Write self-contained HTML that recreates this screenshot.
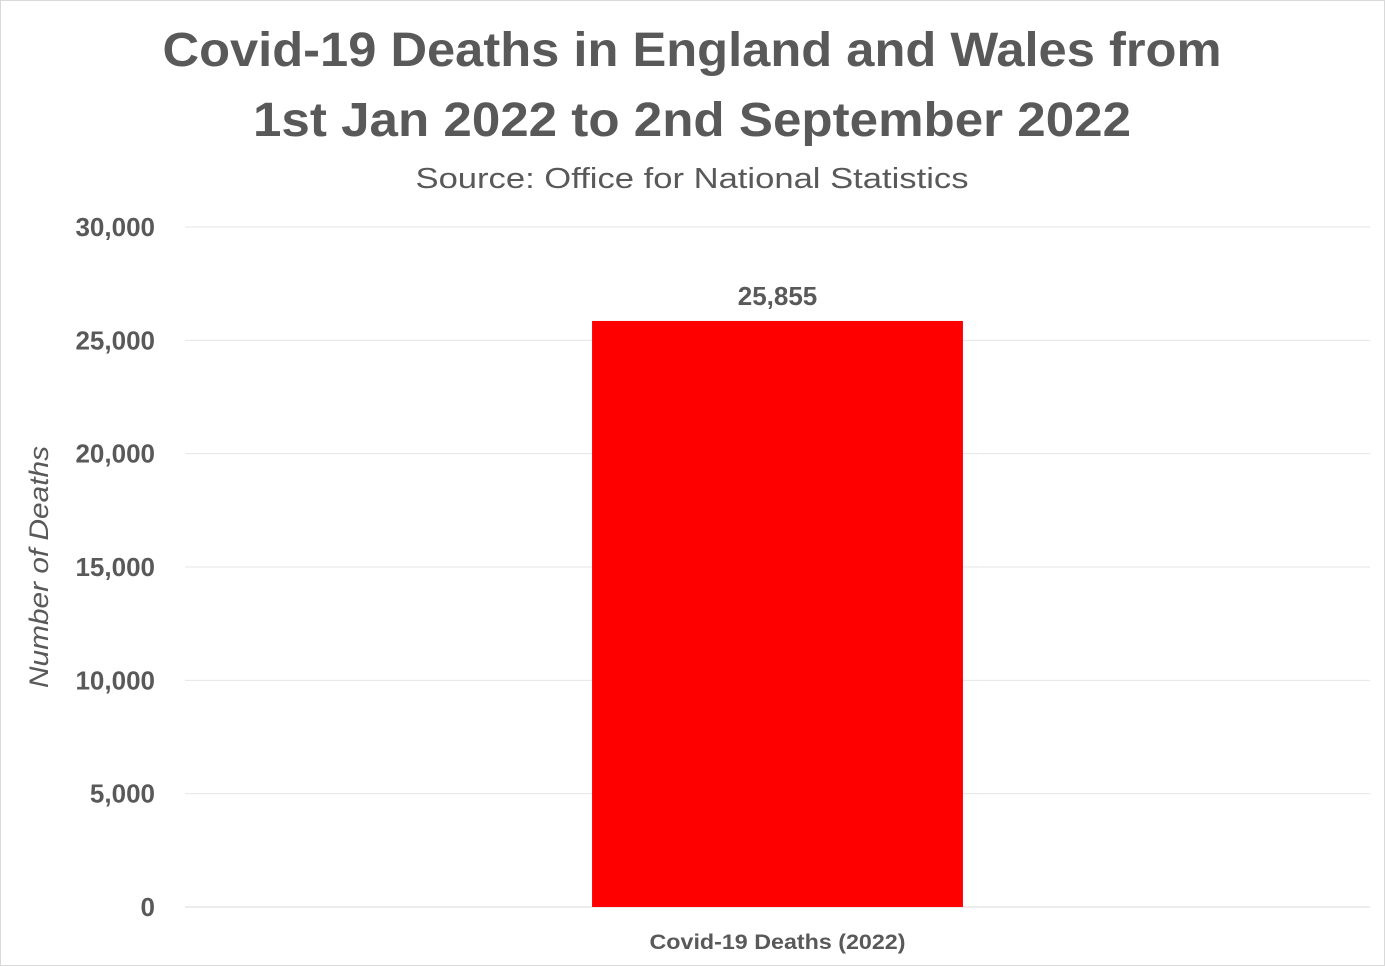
<!DOCTYPE html>
<html><head><meta charset="utf-8"><style>
html,body{margin:0;padding:0;background:#fff}
svg{display:block}
text{font-family:"Liberation Sans",sans-serif;fill:#595959}
</style></head><body>
<svg id="chart" width="1385" height="966" viewBox="0 0 1385 966">
<rect x="0.5" y="0.5" width="1384" height="965" fill="#fff" stroke="#d9d9d9"/>
<text x="692" y="66" text-anchor="middle" font-size="48" font-weight="bold" textLength="1059" lengthAdjust="spacingAndGlyphs">Covid-19 Deaths in England and Wales from</text>
<text x="692" y="136" text-anchor="middle" font-size="48" font-weight="bold" textLength="878" lengthAdjust="spacingAndGlyphs">1st Jan 2022 to 2nd September 2022</text>
<text x="692" y="188" text-anchor="middle" font-size="29" textLength="553" lengthAdjust="spacingAndGlyphs">Source: Office for National Statistics</text>
<g id="grid"></g>
<g id="yticks"></g>
<g id="bars"></g>
<text transform="translate(48,567) rotate(-90)" text-anchor="middle" font-size="27" font-style="italic" textLength="242" lengthAdjust="spacingAndGlyphs">Number of Deaths</text>
</svg>
<script>
const categories = ["Covid-19 Deaths (2022)"];
const values = [25855];
const tickValues = [0, 5000, 10000, 15000, 20000, 25000, 30000];
const tickLabels = ["0", "5,000", "10,000", "15,000", "20,000", "25,000", "30,000"];

const NS = "http://www.w3.org/2000/svg";
const plotL = 185, plotR = 1370, plotT = 227, plotB = 907, yMax = 30000;
const y = v => plotB - (v / yMax) * (plotB - plotT);
const band = (plotR - plotL) / categories.length;
const xc = i => plotL + band * (i + 0.5);
const barW = band * 0.313;
function mk(tag, attrs, parent, txt) {
  const e = document.createElementNS(NS, tag);
  for (const k in attrs) e.setAttribute(k, attrs[k]);
  if (txt !== undefined) e.textContent = txt;
  parent.appendChild(e);
  return e;
}
const grid = document.getElementById('grid'), yt = document.getElementById('yticks'), bars = document.getElementById('bars');
tickValues.forEach((v, i) => {
  const l = mk('line', {x1: plotL, x2: plotR, y1: y(v), y2: y(v), stroke: v === 0 ? '#d9d9d9' : '#e6e6e6', 'stroke-width': 1}, grid);
  
  
  const t = mk('text', {x: 155, y: y(v) + 9, 'text-anchor': 'end', 'font-size': 26, 'font-weight': 'bold'}, yt, tickLabels[i]);
  
  
});
categories.forEach((c, i) => {
  const r = mk('rect', {x: xc(i) - barW / 2, y: y(values[i]), width: barW, height: plotB - y(values[i]), fill: '#ff0000'}, bars);
  
  
  const vl = mk('text', {x: xc(i), y: y(values[i]) - 16, 'text-anchor': 'middle', 'font-size': 26, 'font-weight': 'bold', fill: '#404040'}, bars, values[i].toLocaleString('en-US'));
  
  
  const cl = mk('text', {x: xc(i), y: 949, 'text-anchor': 'middle', 'font-size': 21, 'font-weight': 'bold', textLength: 256, lengthAdjust: 'spacingAndGlyphs'}, bars, c);
  
  
});
</script>
</body></html>
